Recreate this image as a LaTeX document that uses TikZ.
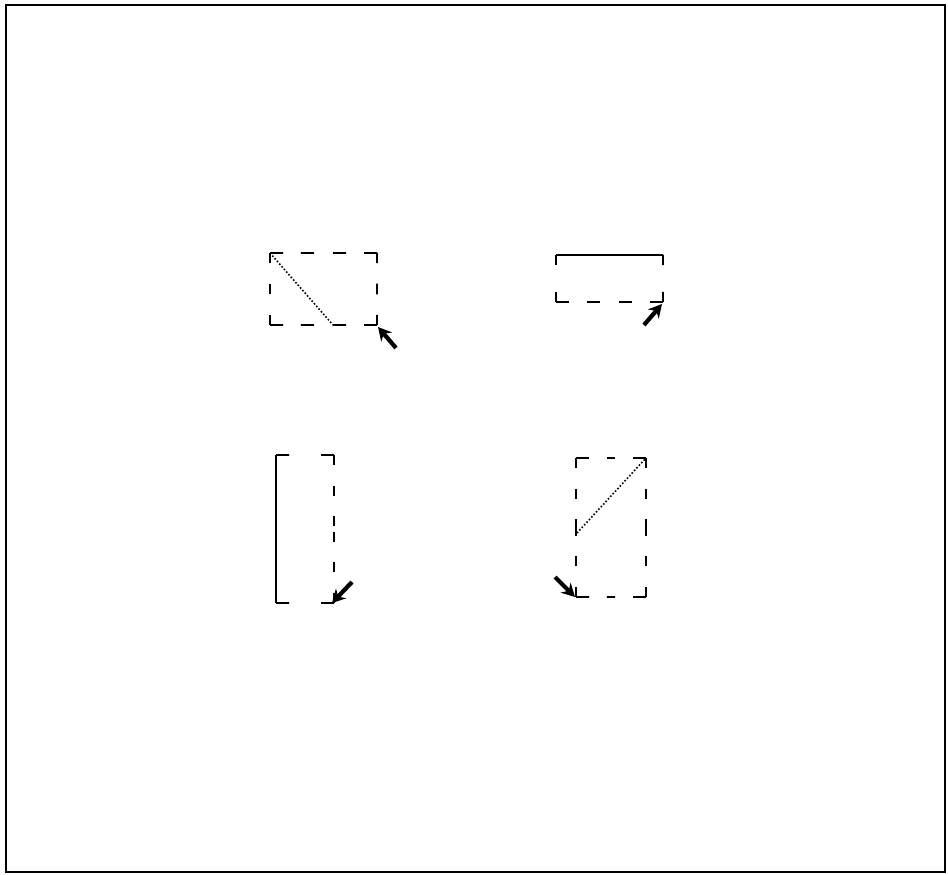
\documentclass[tikz,border=0pt]{standalone}
\usetikzlibrary{arrows.meta,calc}
% one side of a box, dashed from both corners inwards
\newcommand{\hside}[2]{%
  \draw[dashedge] (#1) -- ($(#1)!0.5!(#2)$);
  \draw[dashedge] (#2) -- ($(#2)!0.5!(#1)$);}
\newcommand{\vside}[2]{%
  \draw[vdashedge] (#1) -- ($(#1)!0.5!(#2)$);
  \draw[vdashedge] (#2) -- ($(#2)!0.5!(#1)$);}
\begin{document}
\begin{tikzpicture}[x=0.02cm, y=-0.02cm, line join=miter,
    dashedge/.style={line width=1.1pt, dash pattern=on 7.4pt off 10.2pt},
    vdashedge/.style={line width=1.1pt, dash pattern=on 5.8pt off 11.6pt},
    soledge/.style={line width=1.1pt},
    diag/.style={line width=0.9pt, dash pattern=on 0.9pt off 1.1pt},
    cursor/.style={-{Stealth[length=7.5pt,width=8pt]}, line width=2.4pt}]
  \useasboundingbox (0,0) rectangle (948,875);
  \draw[line width=1.3pt] (6,5) rectangle (945,872);
  % top left: box with diagonal
  \coordinate (nw1) at (270,253); \coordinate (ne1) at (377,253);
  \coordinate (sw1) at (270,325); \coordinate (se1) at (377,325);
  \coordinate (d1) at (333,325);
  \hside{nw1}{ne1} \vside{ne1}{se1} \hside{se1}{sw1} \vside{sw1}{nw1}
  \draw[diag] (nw1) -- (d1);
  \coordinate (t1) at (396,348); \coordinate (h1) at (378,327);
  \draw[cursor] (t1) -- (h1);
  % top right: solid top
  \coordinate (nw2) at (556,255); \coordinate (ne2) at (663,255);
  \coordinate (sw2) at (556,302); \coordinate (se2) at (663,302);
  \draw[soledge] (nw2) -- (ne2);
  \vside{ne2}{se2} \hside{se2}{sw2} \vside{sw2}{nw2}
  \coordinate (t2) at (644,325); \coordinate (h2) at (662,304);
  \draw[cursor] (t2) -- (h2);
  % bottom left: solid left side
  \coordinate (nw3) at (276,455); \coordinate (ne3) at (334,455);
  \coordinate (sw3) at (276,603); \coordinate (se3) at (334,603);
  \draw[soledge] (nw3) -- (sw3);
  \hside{nw3}{ne3} \vside{ne3}{se3} \hside{se3}{sw3}
  \coordinate (t3) at (352,582); \coordinate (h3) at (332,603);
  \draw[cursor] (t3) -- (h3);
  % bottom right: box with diagonal
  \coordinate (nw4) at (576,458); \coordinate (ne4) at (646,458);
  \coordinate (sw4) at (576,597); \coordinate (se4) at (646,597);
  \coordinate (d4) at (577,533);
  \hside{nw4}{ne4} \vside{ne4}{se4} \hside{se4}{sw4} \vside{sw4}{nw4}
  \draw[diag] (d4) -- (ne4);
  \coordinate (t4) at (555,577); \coordinate (h4) at (575,597);
  \draw[cursor] (t4) -- (h4);
\end{tikzpicture}
\end{document}
